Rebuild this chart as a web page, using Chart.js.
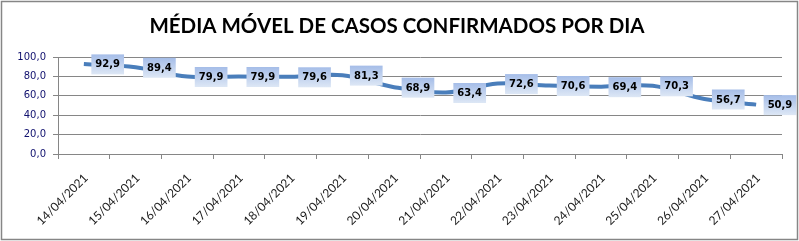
<!DOCTYPE html>
<html>
<head>
<meta charset="utf-8">
<script src="https://cdn.jsdelivr.net/npm/chart.js@4/dist/chart.umd.min.js"></script>
<style>
  body { margin: 0; background: #fff; }
  #wrap { width: 799px; height: 241px; }
</style>
</head>
<body>
<div id="wrap"><canvas id="myChart" width="799" height="241"></canvas></div>
<script>
var titleText = 'MÉDIA MÓVEL DE CASOS CONFIRMADOS POR DIA';
var dates = ['14/04/2021', '15/04/2021', '16/04/2021', '17/04/2021', '18/04/2021', '19/04/2021', '20/04/2021',
             '21/04/2021', '22/04/2021', '23/04/2021', '24/04/2021', '25/04/2021', '26/04/2021', '27/04/2021'];
var mediaMovel = [92.9, 89.4, 79.9, 79.9, 79.6, 81.3, 68.9, 63.4, 72.6, 70.6, 69.4, 70.3, 56.7, 50.9];
var yTicks = [0, 20, 40, 60, 80, 100];

function fmt(v) {
  return v.toFixed(1).replace('.', ',');
}

// title + outer frame
var framePlugin = {
  id: 'frame',
  afterDraw: function (chart) {
    var ctx = chart.ctx;
    ctx.save();
    ctx.strokeStyle = '#868686';
    ctx.lineWidth = 1.5;
    ctx.strokeRect(1.5, 1.5, 796, 238);
    ctx.fillStyle = '#000';
    ctx.font = 'bold 20.5px Lato';
    ctx.textAlign = 'center';
    ctx.textBaseline = 'alphabetic';
    ctx.fillText(titleText, 397, 33);
    ctx.restore();
  }
};

// boxed value labels to the right of each point
var labelPlugin = {
  id: 'valueLabels',
  afterDatasetsDraw: function (chart) {
    var ctx = chart.ctx;
    var meta = chart.getDatasetMeta(0);
    ctx.save();
    ctx.font = 'bold 10px "DejaVu Sans"';
    ctx.textAlign = 'center';
    ctx.textBaseline = 'middle';
    meta.data.forEach(function (pt, i) {
      var txt = fmt(mediaMovel[i]);
      var w = ctx.measureText(txt).width + 8;
      var h = 20;
      var bx = pt.x + 7.5;
      var by = pt.y - 9.5;
      var g = ctx.createLinearGradient(0, by, 0, by + h);
      g.addColorStop(0, '#a5bde8');
      g.addColorStop(1, '#dde7f5');
      ctx.fillStyle = g;
      ctx.fillRect(bx, by, w, h);
      ctx.fillStyle = '#000';
      ctx.fillText(txt, bx + w / 2, by + h / 2 + 0.5);
    });
    ctx.restore();
  }
};

var chart = new Chart(document.getElementById('myChart'), {
  type: 'line',
  data: {
    labels: dates,
    datasets: [{
      label: 'Média móvel',
      data: mediaMovel,
      borderColor: '#4a7ebb',
      borderWidth: 4,
      tension: 0.35,
      pointRadius: 0,
      fill: false
    }]
  },
  options: {
    responsive: false,
    animation: false,
    layout: { padding: { top: 57, right: 17, bottom: 0, left: 0 } },
    plugins: {
      legend: { display: false },
      title: { display: false },
      tooltip: { enabled: false }
    },
    scales: {
      x: {
        offset: true,
        grid: { offset: true, drawOnChartArea: false, drawTicks: true, tickLength: 5, color: '#868686' },
        border: { color: '#868686', width: 1 },
        ticks: {
          minRotation: 45, maxRotation: 45, autoSkip: false,
          padding: 12,
          labelOffset: 2,
          color: '#1a1a1a',
          font: { family: 'Lato', size: 12 }
        },
        afterFit: function (s) { s.height = 87; s.paddingLeft = 0; s.paddingRight = 0; }
      },
      y: {
        min: 0, max: 100,
        afterBuildTicks: function (s) { s.ticks = yTicks.map(function (v) { return { value: v }; }); },
        grid: { color: '#868686', tickLength: 5 },
        border: { color: '#868686', width: 1 },
        ticks: {
          padding: 7,
          color: '#10106e',
          font: { family: 'DejaVu Sans', size: 10 },
          callback: function (v) { return fmt(v); }
        },
        afterFit: function (s) { s.width = 58; s.paddingTop = 0; s.paddingBottom = 0; }
      }
    }
  },
  plugins: [framePlugin, labelPlugin]
});
</script>
</body>
</html>
